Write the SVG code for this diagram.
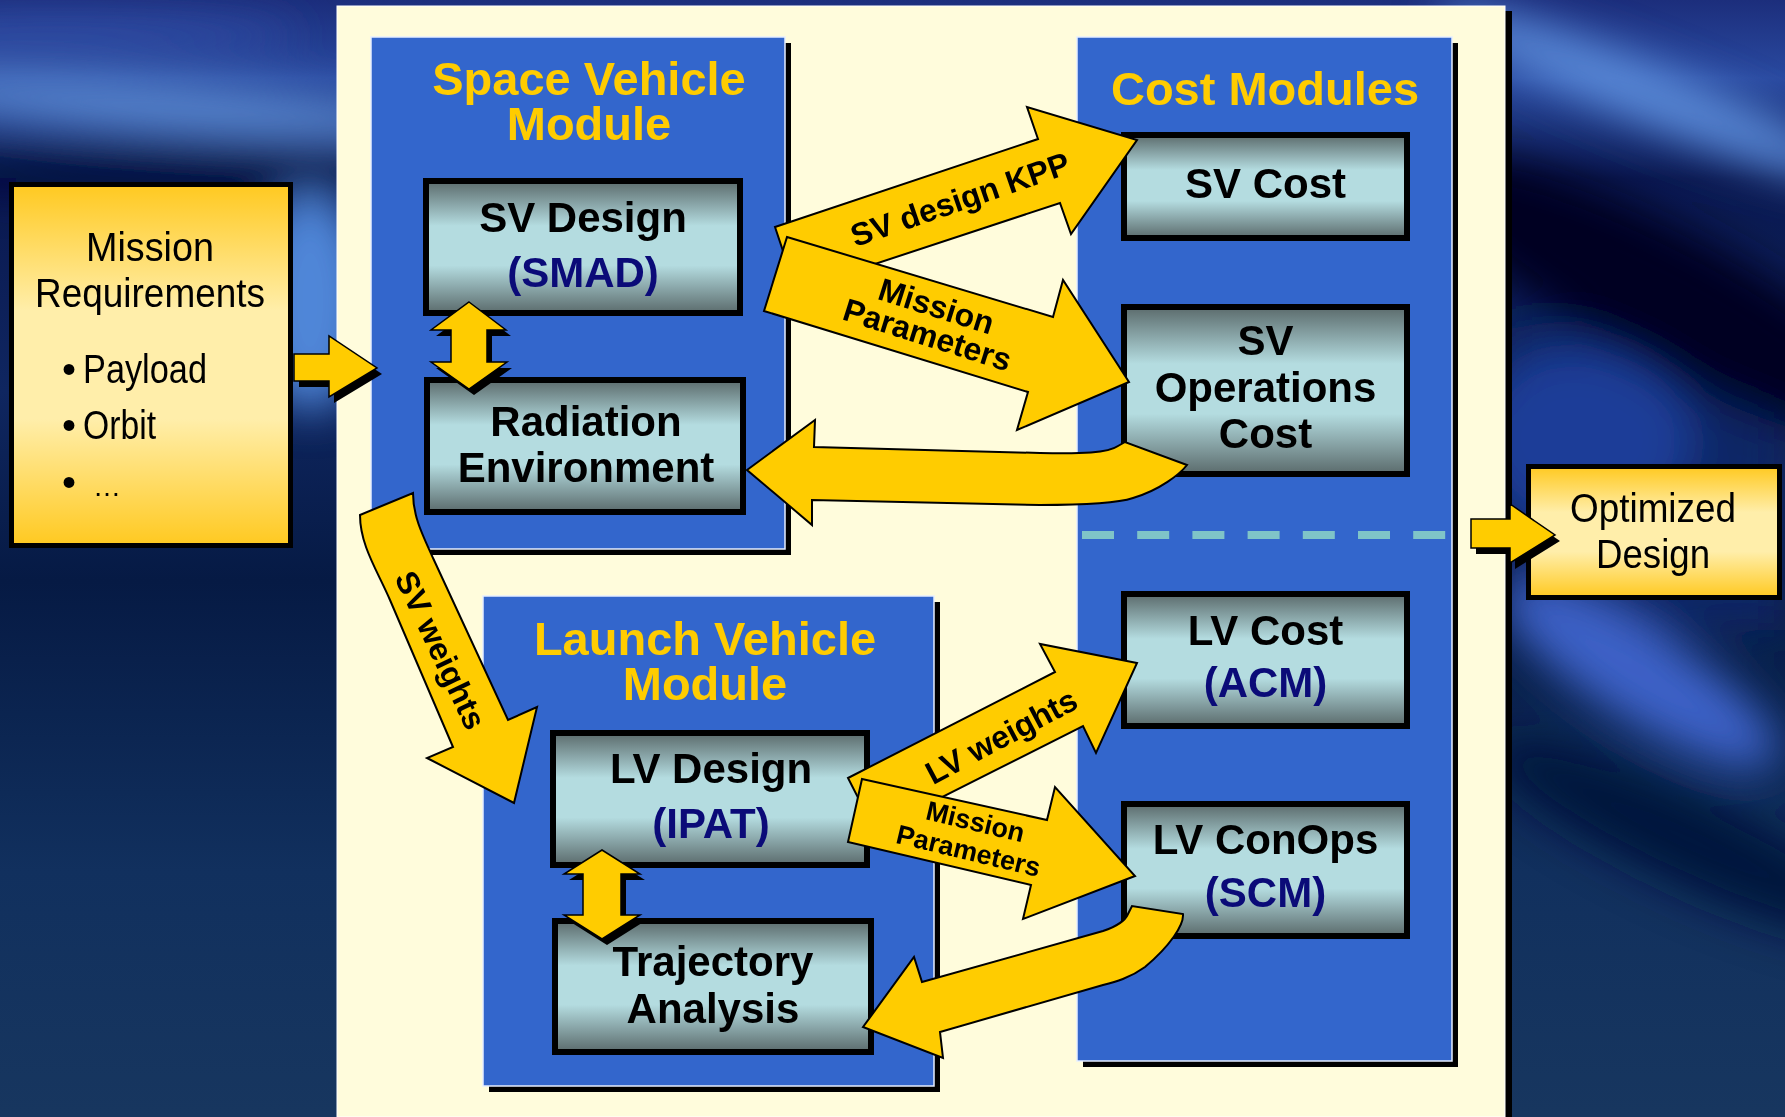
<svg xmlns="http://www.w3.org/2000/svg" width="1785" height="1117" viewBox="0 0 1785 1117">
  <defs>
    <linearGradient id="bgBase" x1="0" y1="0" x2="0" y2="1">
      <stop offset="0" stop-color="#1c2e7c"/>
      <stop offset="0.07" stop-color="#2a4aa0"/>
      <stop offset="0.16" stop-color="#0a1850"/>
      <stop offset="0.35" stop-color="#0f2660"/>
      <stop offset="0.52" stop-color="#061a44"/>
      <stop offset="0.78" stop-color="#11305e"/>
      <stop offset="1" stop-color="#17365f"/>
    </linearGradient>
    <linearGradient id="gBox" x1="0" y1="0" x2="0" y2="1">
      <stop offset="0" stop-color="#5b6b6c"/>
      <stop offset="0.34" stop-color="#b4dce0"/>
      <stop offset="0.64" stop-color="#b4dce0"/>
      <stop offset="1" stop-color="#5b6b6c"/>
    </linearGradient>
    <linearGradient id="gGold" x1="0" y1="0" x2="0" y2="1">
      <stop offset="0" stop-color="#ffc920"/>
      <stop offset="0.35" stop-color="#ffeeaa"/>
      <stop offset="0.65" stop-color="#ffeeaa"/>
      <stop offset="1" stop-color="#ffc920"/>
    </linearGradient>
    <filter id="soft" x="-30%" y="-30%" width="160%" height="160%">
      <feGaussianBlur stdDeviation="22"/>
    </filter>
    <style>
      .module { fill: #3366cc; stroke: #e6eeff; stroke-width: 1.5; }
      .shade { fill: #000; }
      .box { fill: url(#gBox); stroke: #000; stroke-width: 6; }
      .gold { fill: url(#gGold); stroke: #000; stroke-width: 5; }
      .flow { fill: #ffcc00; stroke: #000; stroke-width: 2; stroke-linejoin: miter; }
      .flow-thin { fill: #ffcc00; stroke: #000; stroke-width: 1.5; }
      .title { font-family: "Liberation Sans", Arial, sans-serif; font-weight: bold; font-size: 47px; fill: #ffcc00; text-anchor: middle; }
      .label { font-family: "Liberation Sans", Arial, sans-serif; font-weight: bold; font-size: 42px; fill: #000; text-anchor: middle; }
      .tool { fill: #0b0b78; }
      .tag { font-family: "Liberation Sans", Arial, sans-serif; font-weight: bold; font-size: 32px; fill: #000; text-anchor: middle; }
      .tag-sm { font-size: 27px; }
      .plain { font-family: "Liberation Sans", Arial, sans-serif; font-size: 40px; fill: #000; }
    </style>
  </defs>

  <!-- backdrop -->
  <rect x="0" y="0" width="1785" height="1117" fill="url(#bgBase)"/>
  <g filter="url(#soft)">
    <!-- left side -->
    <ellipse cx="60" cy="35" rx="240" ry="18" fill="#3050a8"/>
    <ellipse cx="170" cy="108" rx="280" ry="22" fill="#5e90d8" transform="rotate(4 170 108)"/>
    <ellipse cx="150" cy="172" rx="260" ry="18" fill="#050f3c"/>
    <ellipse cx="310" cy="300" rx="60" ry="110" fill="#4f86d8"/>
    <!-- right side -->
    <ellipse cx="1650" cy="95" rx="230" ry="28" fill="#5a8ad8" transform="rotate(22 1650 95)"/>
    <rect x="1505" y="330" width="280" height="300" fill="#0f2666"/>
    <ellipse cx="1580" cy="440" rx="110" ry="90" fill="#1f3c98"/>
    <ellipse cx="1670" cy="300" rx="280" ry="70" fill="#020520" transform="rotate(28 1670 300)"/>
    <ellipse cx="1640" cy="675" rx="160" ry="45" fill="#3d62c8" transform="rotate(32 1640 675)"/>
    <ellipse cx="1690" cy="840" rx="220" ry="45" fill="#04163c" transform="rotate(25 1690 840)"/>
  </g>

  <!-- central panel -->
  <rect x="1505" y="11" width="7" height="1106" class="shade"/>
  <rect x="337" y="6" width="1168" height="1111" fill="#fffcdc" stroke="#ffffff" stroke-width="1"/>

  <!-- module panels -->
  <g id="sv-module">
    <rect x="377" y="43" width="414" height="512" class="shade"/>
    <rect x="371" y="37" width="414" height="512" class="module"/>
    <text class="title" x="589" y="95">Space Vehicle</text>
    <text class="title" x="589" y="140">Module</text>
  </g>
  <g id="lv-module">
    <rect x="489" y="602" width="451" height="490" class="shade"/>
    <rect x="483" y="596" width="451" height="490" class="module"/>
    <text class="title" x="705" y="655">Launch Vehicle</text>
    <text class="title" x="705" y="700">Module</text>
  </g>
  <g id="cost-modules">
    <rect x="1083" y="43" width="375" height="1024" class="shade"/>
    <rect x="1077" y="37" width="375" height="1024" class="module"/>
    <text class="title" x="1265" y="105">Cost Modules</text>
    <line x1="1082" y1="535" x2="1452" y2="535" stroke="#7fc4c8" stroke-width="8" stroke-dasharray="32 23.2"/>
  </g>

  <!-- outer input / output -->
  <g id="mission-requirements">
    <rect x="11.5" y="184.5" width="279" height="361" class="gold"/>
    <text class="plain" x="86" y="261" textLength="128" lengthAdjust="spacingAndGlyphs">Mission</text>
    <text class="plain" x="35" y="307" textLength="230" lengthAdjust="spacingAndGlyphs">Requirements</text>
    <text class="plain" y="383"><tspan x="62">•</tspan><tspan x="83" textLength="124" lengthAdjust="spacingAndGlyphs">Payload</tspan></text>
    <text class="plain" y="439"><tspan x="62">•</tspan><tspan x="83" textLength="73" lengthAdjust="spacingAndGlyphs">Orbit</tspan></text>
    <text class="plain" y="496"><tspan x="62">•</tspan><tspan x="93" font-size="28">…</tspan></text>
  </g>
  <g id="optimized-design">
    <rect x="1528.5" y="466.5" width="251" height="131" class="gold"/>
    <text class="plain" x="1570" y="522" textLength="166" lengthAdjust="spacingAndGlyphs">Optimized</text>
    <text class="plain" x="1596" y="568" textLength="114" lengthAdjust="spacingAndGlyphs">Design</text>
  </g>

  <!-- tool boxes -->
  <g id="sv-design">
    <rect x="426" y="181" width="314" height="132" class="box"/>
    <text class="label" x="583" y="232">SV Design</text>
    <text class="label tool" x="583" y="287">(SMAD)</text>
  </g>
  <g id="radiation-environment">
    <rect x="427" y="380" width="316" height="132" class="box"/>
    <text class="label" x="586" y="436">Radiation</text>
    <text class="label" x="586" y="482">Environment</text>
  </g>
  <g id="lv-design">
    <rect x="553" y="733" width="314" height="132" class="box"/>
    <text class="label" x="711" y="783">LV Design</text>
    <text class="label tool" x="711" y="838">(IPAT)</text>
  </g>
  <g id="trajectory-analysis">
    <rect x="555" y="921" width="316" height="131" class="box"/>
    <text class="label" x="713" y="976">Trajectory</text>
    <text class="label" x="713" y="1023">Analysis</text>
  </g>
  <g id="sv-cost">
    <rect x="1124" y="135" width="283" height="103" class="box"/>
    <text class="label" x="1265.5" y="198">SV Cost</text>
  </g>
  <g id="sv-operations-cost">
    <rect x="1124" y="307" width="283" height="167" class="box"/>
    <text class="label" x="1265.5" y="355">SV</text>
    <text class="label" x="1265.5" y="402">Operations</text>
    <text class="label" x="1265.5" y="448">Cost</text>
  </g>
  <g id="lv-cost">
    <rect x="1124" y="594" width="283" height="132" class="box"/>
    <text class="label" x="1265.5" y="645">LV Cost</text>
    <text class="label tool" x="1265.5" y="697">(ACM)</text>
  </g>
  <g id="lv-conops">
    <rect x="1124" y="804" width="283" height="132" class="box"/>
    <text class="label" x="1265.5" y="854">LV ConOps</text>
    <text class="label tool" x="1265.5" y="907">(SCM)</text>
  </g>

  <!-- data flows -->
  <g id="connectors">
    <!-- requirements in, design out -->
    <polygon class="shade" points="299,360 334,360 334,342 382,374 334,403 334,387 299,387"/>
    <polygon class="flow-thin" points="294,354 329,354 329,336 377,368 329,397 329,381 294,381"/>
    <polygon class="shade" points="1476,525 1515,525 1515,510 1560,541 1515,569 1515,554 1476,554"/>
    <polygon class="flow-thin" points="1471,519 1510,519 1510,504 1555,535 1510,563 1510,548 1471,548"/>

    <!-- SV design <-> radiation -->
    <polygon class="shade" points="474,308 511,336 492,336 492,368 512,368 474,395 436,368 456,368 456,336 436,336"/>
    <polygon class="flow-thin" points="469,302 506,330 487,330 487,362 507,362 469,389 431,362 451,362 451,330 431,330"/>
    <!-- LV design <-> trajectory -->
    <polygon class="shade" points="607,856 645,880 626,880 626,921 645,921 607,945 569,921 588,921 588,880 569,880"/>
    <polygon class="flow-thin" points="602,850 640,874 621,874 621,915 640,915 602,939 564,915 583,915 583,874 564,874"/>

    <!-- SV design to cost models -->
    <polygon class="flow" points="775,227 1038,139 1027,107 1137,140 1071,234 1060,203 796,290"/>
    <text class="tag" transform="translate(960,199) rotate(-19)" y="11.5">SV design KPP</text>
    <polygon class="flow" points="787,237 1053,317 1063,280 1129,382 1017,430 1028,392 764,311"/>
    <g transform="translate(932,320) rotate(17.5)">
      <text class="tag" x="0" y="-3.5">Mission</text>
      <text class="tag" x="0" y="26.5">Parameters</text>
    </g>
    <!-- operations cost back to radiation -->
    <path class="flow" d="M747,470 L815,420 L814,447 L1040,453 C1082,454 1108,453 1118,446 L1125,442 L1187,465 C1180,474 1160,490 1133,498 C1118,503 1090,505 1040,505 L812,500 L812,525 Z"/>

    <!-- SV weights down to LV design -->
    <path class="flow" d="M360,515 C360,545 377,570 390,600 L453,747 L427,758 L514,803 L537,707 L508,720 L433,558 C421,532 413,515 413,493 Z"/>
    <text class="tag" transform="translate(441,650) rotate(64.6)" y="11.5">SV weights</text>

    <!-- LV design to cost models -->
    <polygon class="flow" points="848,778 1055,672 1040,644 1137,663 1096,753 1083,726 875,831"/>
    <text class="tag" transform="translate(1001,736) rotate(-28)" y="11.5">LV weights</text>
    <polygon class="flow" points="862,779 1047,820 1055,787 1135,876 1023,919 1031,885 848,842"/>
    <g transform="translate(972,836) rotate(13.5)">
      <text class="tag tag-sm" x="0" y="-5.5">Mission</text>
      <text class="tag tag-sm" x="0" y="24.5">Parameters</text>
    </g>
    <!-- concept of operations back to trajectory -->
    <path class="flow" d="M863,1027 L914,957 L922,982 L1103,931 C1115,927 1125,921 1128,914 L1132,906 L1183,914 C1184,925 1170,946 1145,967 C1130,978 1115,982 1103,985 L940,1032 L943,1058 Z"/>
  </g>
</svg>
